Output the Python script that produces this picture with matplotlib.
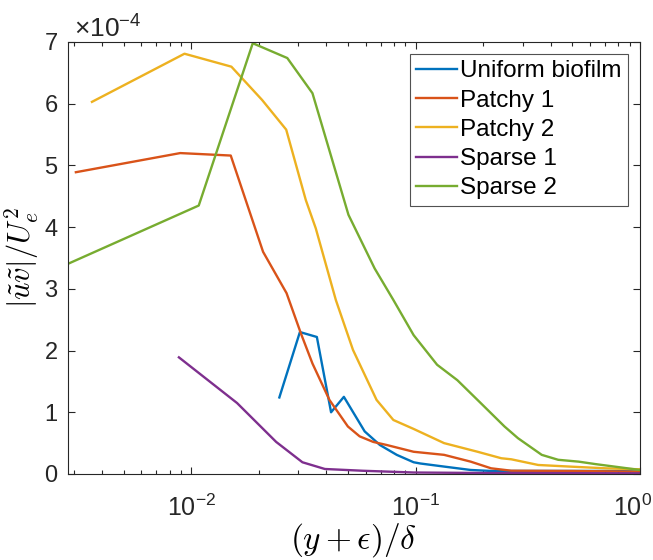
import matplotlib
matplotlib.use('Agg')
import matplotlib.pyplot as plt
import matplotlib.transforms as mtransforms
from matplotlib.ticker import ScalarFormatter, LogLocator, NullFormatter

plt.rcParams['font.family'] = ['Liberation Sans', 'DejaVu Sans']
plt.rcParams['mathtext.fontset'] = 'custom'
plt.rcParams['mathtext.rm'] = 'Liberation Sans'
plt.rcParams['mathtext.it'] = 'Liberation Sans:italic'

# wall-normal position (y+eps)/delta and |uv|/Ue^2 for each surface
x_uniform = [0.0247, 0.0305, 0.0363, 0.0420, 0.0479, 0.0593, 0.0693, 0.0824,
             0.098, 0.105, 0.134, 0.176, 0.217, 0.464, 0.99, 1.0]
uv_uniform = [1.24, 2.30, 2.22, 1.00, 1.25, 0.69, 0.47, 0.31,
              0.19, 0.17, 0.12, 0.065, 0.049, 0.049, 0.05, 0.065]

x_patchy1 = [0.00306, 0.00893, 0.0150, 0.0209, 0.0266, 0.0308, 0.0347, 0.0413,
             0.0499, 0.0563, 0.0647, 0.0743, 0.098, 0.134, 0.176, 0.217,
             0.267, 0.498, 1.0]
uv_patchy1 = [4.89, 5.20, 5.16, 3.60, 2.93, 2.28, 1.79, 1.20,
              0.77, 0.61, 0.52, 0.47, 0.36, 0.31, 0.20, 0.092,
              0.053, 0.049, 0.037]

x_patchy2 = [0.00361, 0.00933, 0.0151, 0.0207, 0.0265, 0.0324, 0.0359, 0.0441,
             0.0526, 0.067, 0.0796, 0.098, 0.134, 0.189, 0.241, 0.267,
             0.352, 0.498, 0.703, 1.0]
uv_patchy2 = [6.03, 6.81, 6.60, 6.06, 5.58, 4.44, 3.98, 2.82,
              2.01, 1.20, 0.875, 0.73, 0.50, 0.36, 0.255, 0.238,
              0.146, 0.118, 0.092, 0.076]

x_sparse1 = [0.00881, 0.0160, 0.0239, 0.0313, 0.0394, 0.0584, 0.098, 0.2, 1.0]
uv_sparse1 = [1.89, 1.15, 0.52, 0.19, 0.081, 0.052, 0.024, 0.016, 0.011]

x_sparse2 = [0.0028, 0.0108, 0.0188, 0.0268, 0.0347, 0.0502, 0.0657, 0.0796,
             0.098, 0.1247, 0.1535, 0.195, 0.249, 0.286, 0.365, 0.432,
             0.533, 0.634, 0.807, 1.0]
uv_sparse2 = [3.40, 4.35, 6.98, 6.74, 6.17, 4.20, 3.33, 2.82,
              2.25, 1.77, 1.52, 1.15, 0.77, 0.58, 0.31, 0.23,
              0.20, 0.16, 0.11, 0.065]

labels = ['Uniform biofilm', 'Patchy 1', 'Patchy 2', 'Sparse 1', 'Sparse 2']
colors = ['#0072BD', '#D95319', '#EDB120', '#7E2F8E', '#77AC30']
xticks = [0.01, 0.1, 1.0]

series = [(x_uniform, uv_uniform), (x_patchy1, uv_patchy1), (x_patchy2, uv_patchy2),
          (x_sparse1, uv_sparse1), (x_sparse2, uv_sparse2)]

fig = plt.figure(figsize=(6.53, 5.6), dpi=100)
ax = fig.add_axes([0.104, 0.1536, 0.876, 0.7714])

for (xs, ys), lab, c in zip(series, labels, colors):
    ax.plot(xs, [v * 1e-4 for v in ys], color=c, lw=1.7, label=lab)

ax.set_xscale('log')
ax.set_xlim(0.00282, 1.0)
ax.set_ylim(0, 7e-4)
ax.set_yticks([i * 1e-4 for i in range(8)])
ax.set_xticks(xticks)

fmt = ScalarFormatter(useMathText=True)
fmt.set_powerlimits((-3, 3))
ax.yaxis.set_major_formatter(fmt)
ax.xaxis.set_minor_locator(LogLocator(base=10, subs=range(2, 10), numticks=20))
ax.xaxis.set_minor_formatter(NullFormatter())

ax.tick_params(which='both', direction='in', top=True, right=True,
               colors='#262626', width=0.8)
ax.tick_params(axis='y', labelsize=17, pad=7)
ax.tick_params(axis='x', labelsize=18, pad=15)
ax.tick_params(which='major', length=5)
ax.tick_params(which='minor', length=3)
for s in ax.spines.values():
    s.set_color('#262626')
    s.set_linewidth(0.8)
off = ax.yaxis.get_offset_text()
off.set_fontsize(19)
off.set_color('#262626')
off.set_x(0.01)

# keep the 10^0 label inside the figure edge
last = ax.xaxis.get_major_ticks()[-1].label1
last.set_transform(last.get_transform() +
                   mtransforms.ScaledTranslation(-7 / 100, 0, fig.dpi_scale_trans))

ax.set_xlabel(r'$(y+\epsilon)/\delta$', fontsize=24, math_fontfamily='cm',
              labelpad=0)
ax.set_ylabel(r'$|\tilde{u}\tilde{v}|/U_e^2$', fontsize=22, math_fontfamily='cm',
              labelpad=2)

leg = ax.legend(loc='upper right', fontsize=17.5, frameon=True, fancybox=False,
                edgecolor='#262626', handlelength=1.65, handletextpad=0.15,
                labelspacing=0.3, borderpad=0.25, borderaxespad=0.5)
leg.get_frame().set_linewidth(0.8)

fig.savefig('out.png', dpi=100)
